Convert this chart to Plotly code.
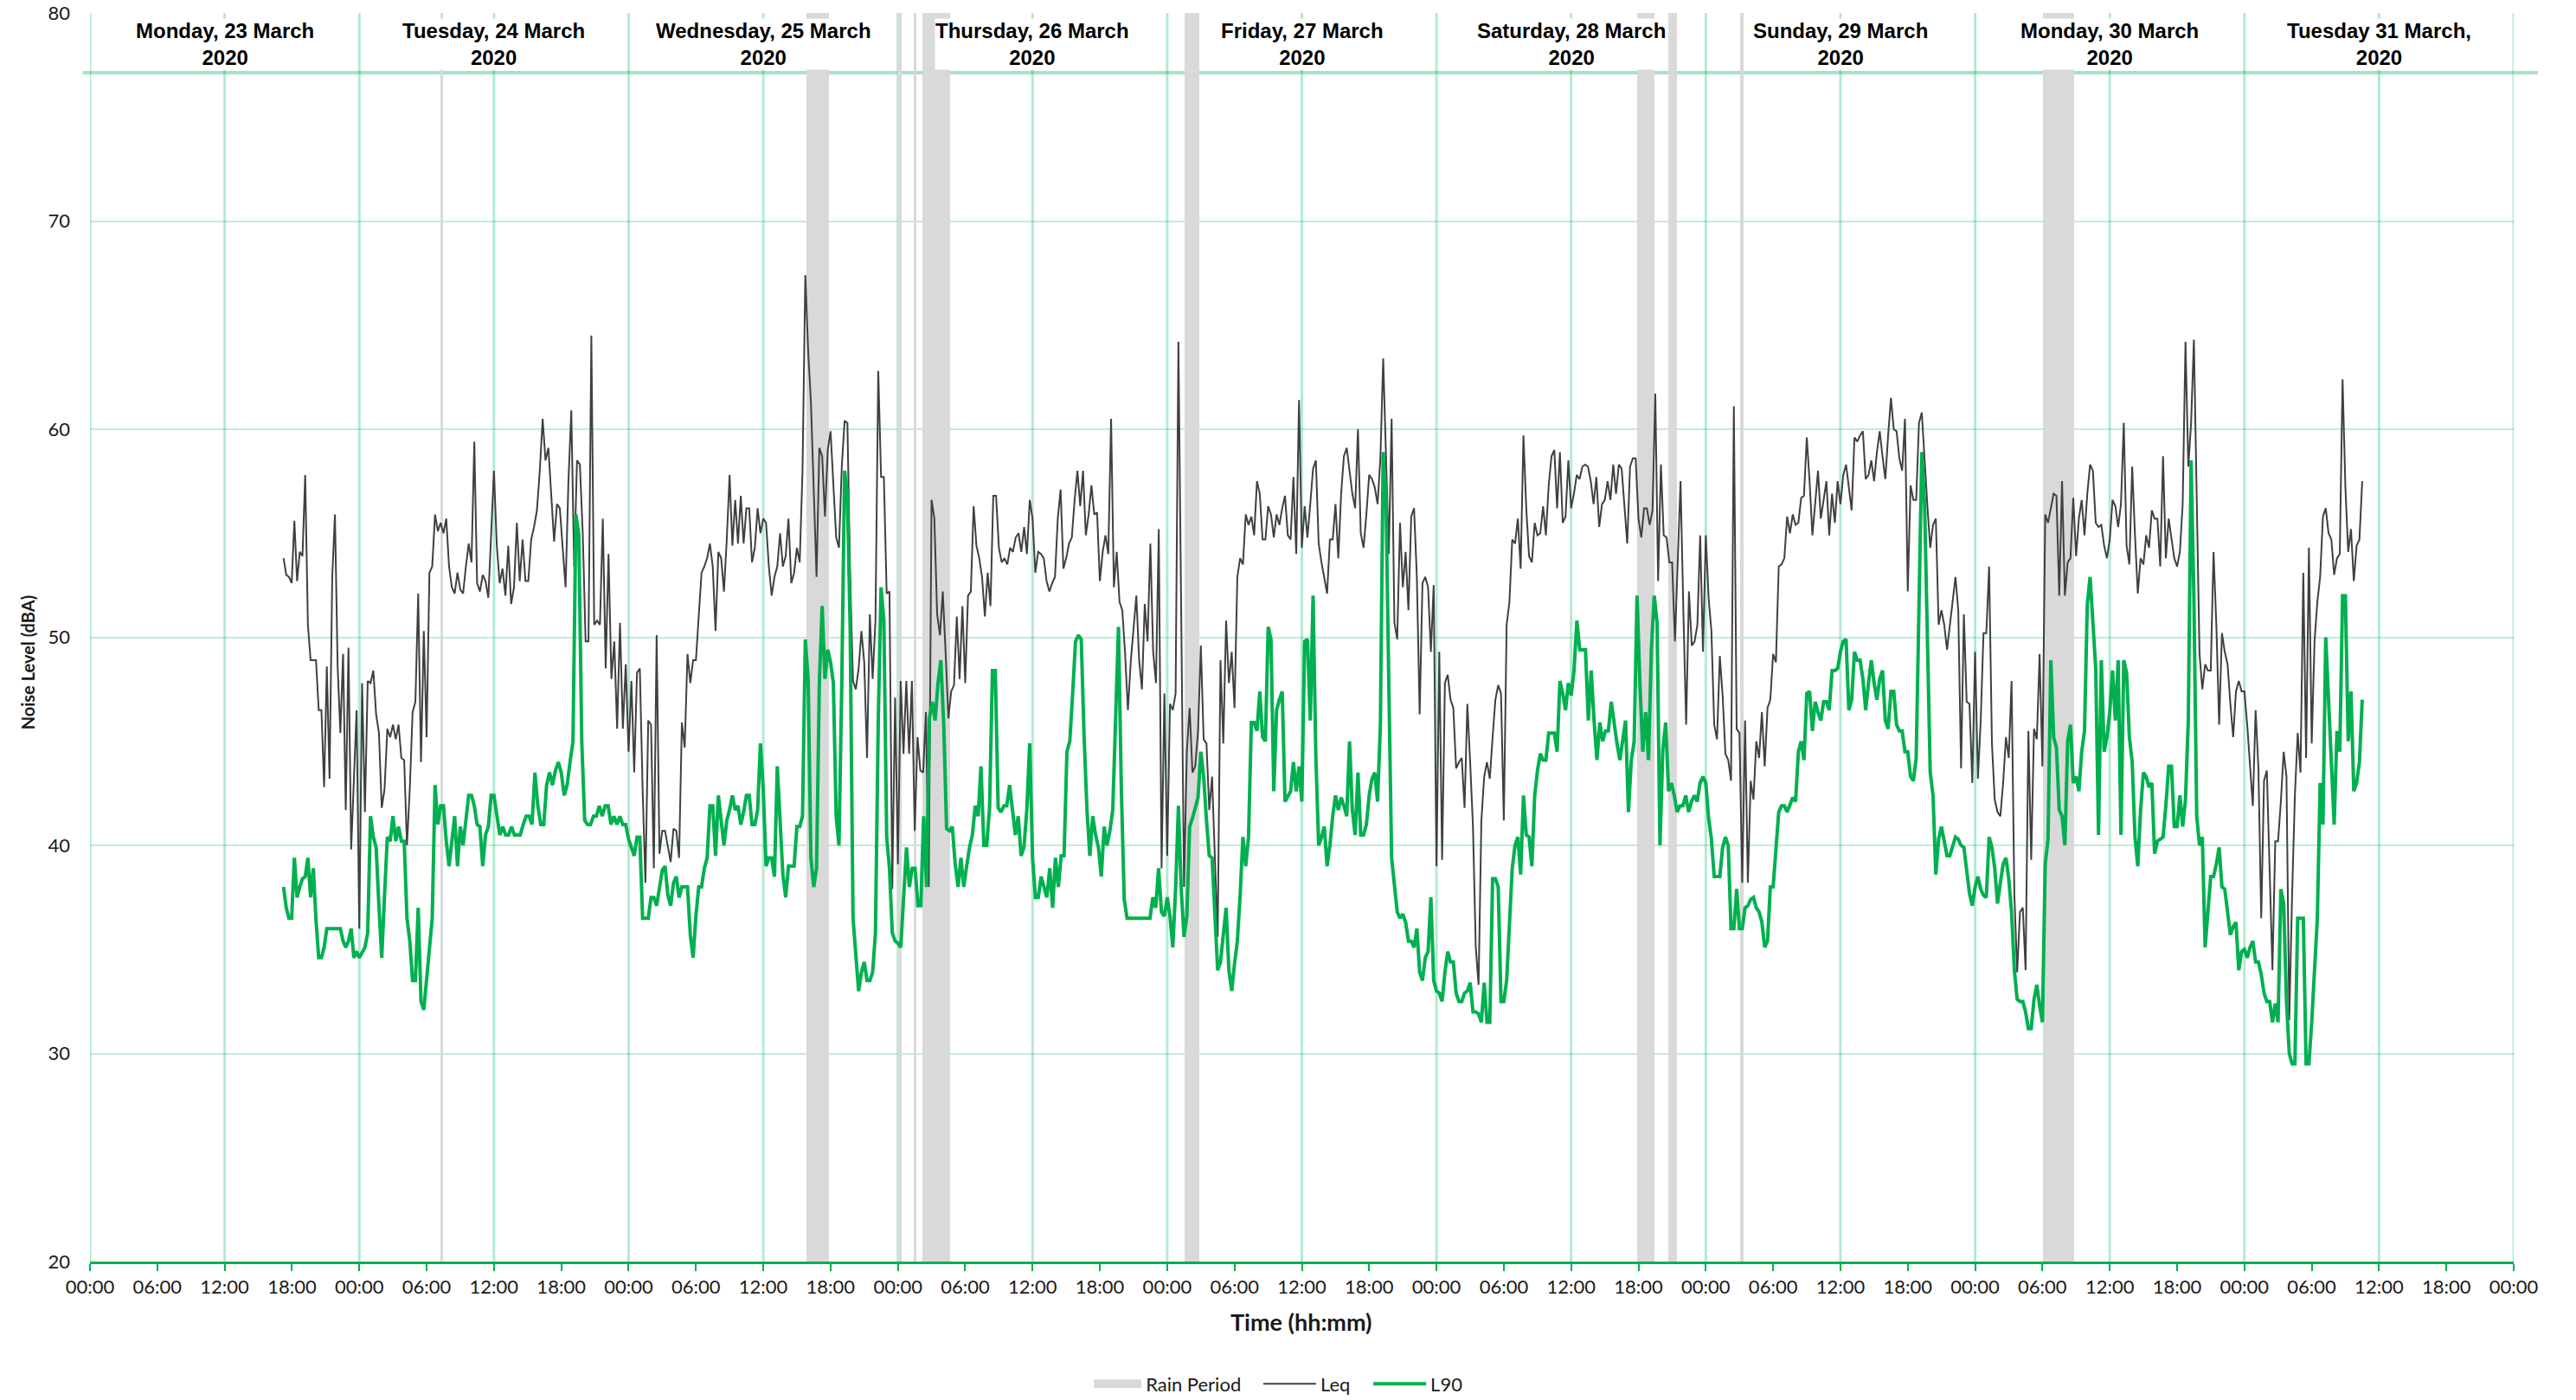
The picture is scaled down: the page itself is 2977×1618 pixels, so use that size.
import pandas as pd
import plotly.graph_objects as go

# ---------------- data ----------------
# half-day blocks; values read at ~15 min spacing
block_starts = ["2020-03-23 17:15", "2020-03-24 00:00", "2020-03-24 12:00", "2020-03-25 00:00",
                "2020-03-25 12:00", "2020-03-26 00:00", "2020-03-26 12:00", "2020-03-27 00:00",
                "2020-03-27 12:00", "2020-03-28 00:00", "2020-03-28 12:00", "2020-03-29 00:00",
                "2020-03-29 12:00", "2020-03-30 00:00", "2020-03-30 12:00", "2020-03-31 00:00"]
block_ends = block_starts[1:] + ["2020-03-31 10:45"]

leq_23pm = [53.8, 53.0, 52.9, 52.6, 55.6, 52.7, 54.1, 53.9, 57.8, 50.6, 48.9, 48.9, 48.9, 46.5, 46.5, 42.8,
            48.6, 43.2, 52.9, 55.9, 48.6, 45.4, 49.2, 41.7, 49.5, 39.8, 43.2, 46.5]
leq_24am = [36.0, 47.8, 41.6, 47.9, 47.8, 48.4, 46.3, 45.4, 41.8, 42.7, 45.6, 45.2, 45.8, 45.1, 45.8, 44.2,
            44.1, 40.0, 42.7, 46.4, 46.9, 52.1, 44.0, 50.3, 45.2, 53.1, 53.4, 55.9, 55.1, 55.5, 55.0, 55.7,
            53.4, 52.4, 52.1, 53.1, 52.3, 52.1, 53.4, 54.5, 53.6, 59.4, 52.6, 52.2, 53.0, 52.7, 51.9, 55.2]
leq_24pm = [58.0, 54.4, 52.6, 53.3, 52.0, 54.4, 51.6, 52.4, 55.5, 52.7, 54.7, 52.7, 52.7, 54.7, 55.3, 56.1,
            58.0, 60.5, 58.5, 59.1, 56.9, 54.6, 56.4, 56.2, 54.3, 52.4, 57.5, 60.9, 53.4, 58.5, 58.3, 55.0,
            49.8, 49.8, 64.5, 50.6, 50.8, 50.6, 55.7, 48.5, 54.0, 48.0, 49.8, 45.6, 50.7, 45.6, 48.7]
leq_25am = [44.5, 47.9, 43.5, 48.3, 48.5, 42.7, 38.2, 46.0, 45.8, 38.9, 50.1, 39.6, 40.7, 40.7, 39.9, 39.2,
            40.8, 40.7, 39.4, 45.9, 44.7, 49.2, 47.8, 48.9, 48.9, 50.8, 53.1, 53.4, 53.8, 54.5, 53.4, 50.3,
            54.1, 53.8, 52.2, 54.7, 57.8, 54.4, 56.6, 54.5, 56.8, 54.5, 56.2, 56.2, 53.6, 54.3, 56.2, 55.0]
leq_25pm = [55.7, 55.5, 53.4, 52.0, 52.9, 53.4, 55.0, 53.4, 53.9, 55.7, 52.6, 53.1, 54.3, 53.6, 58.0, 67.4,
            63.8, 61.3, 56.7, 52.9, 59.1, 58.7, 55.8, 59.0, 59.9, 57.5, 54.8, 54.3, 58.2, 60.4, 60.3, 52.9,
            47.9, 47.5, 48.5, 50.3, 48.8, 44.2, 51.1, 48.0, 50.8, 62.8, 57.7, 57.7, 52.1, 52.2, 37.9, 47.1]
leq_26am = [39.1, 47.9, 44.4, 47.9, 44.4, 47.9, 40.7, 45.2, 43.6, 43.5, 46.4, 38.0, 56.6, 55.7, 51.1, 50.1,
            52.2, 49.3, 46.1, 47.4, 47.7, 51.0, 48.0, 51.5, 47.8, 52.0, 52.2, 56.3, 54.4, 53.8, 52.9, 51.0,
            53.1, 51.5, 56.8, 56.8, 54.3, 53.6, 53.8, 53.5, 54.3, 54.1, 54.8, 55.0, 54.1, 55.3, 54.0, 56.6]
leq_26pm = [55.7, 53.1, 54.1, 54.0, 53.8, 52.7, 52.2, 52.6, 52.9, 55.7, 57.1, 53.3, 53.8, 54.5, 54.8, 56.6,
            58.0, 56.3, 58.0, 54.9, 55.9, 57.3, 55.9, 56.0, 52.7, 54.1, 54.9, 54.0, 60.5, 52.4, 54.1, 51.7,
            51.3, 49.2, 46.5, 48.8, 50.6, 52.0, 48.9, 47.5, 51.6, 49.8, 54.5, 49.3, 47.8, 55.2, 38.9, 47.3]
leq_27am = [39.5, 46.8, 46.5, 47.3, 64.2, 51.6, 38.0, 44.5, 46.6, 43.5, 43.8, 45.5, 49.6, 45.1, 44.9, 41.7,
            43.3, 39.4, 35.6, 48.9, 44.9, 50.8, 47.8, 49.3, 46.6, 52.9, 53.8, 53.5, 55.9, 55.4, 55.8, 54.9,
            57.5, 56.9, 54.7, 54.7, 56.3, 55.9, 54.8, 55.9, 55.4, 56.2, 56.8, 54.9, 54.7, 57.7, 54.0, 61.4]
leq_27pm = [54.3, 56.3, 54.8, 56.4, 58.1, 58.5, 54.5, 53.6, 52.9, 52.1, 54.7, 54.7, 56.4, 53.8, 56.9, 58.7,
            59.1, 58.1, 56.9, 56.2, 60.0, 55.0, 54.3, 55.9, 57.8, 57.6, 57.2, 56.4, 58.6, 63.4, 58.5, 54.0,
            60.5, 50.7, 49.9, 55.5, 52.4, 54.1, 51.3, 55.8, 56.2, 52.9, 46.3, 52.6, 52.9, 52.4, 49.3, 52.5]
leq_28am = [39.0, 49.3, 39.3, 47.8, 48.2, 47.0, 46.6, 43.7, 44.0, 44.2, 41.8, 46.8, 44.0, 40.9, 35.1, 33.3,
            41.2, 43.3, 44.0, 43.2, 45.2, 47.0, 47.7, 47.3, 41.2, 50.6, 51.7, 54.7, 54.5, 55.7, 53.3, 59.7,
            56.2, 53.9, 53.6, 55.5, 54.9, 55.0, 56.3, 54.9, 57.3, 58.7, 59.0, 56.2, 58.9, 55.5, 55.8, 58.5]
leq_28pm = [56.2, 56.9, 57.8, 57.6, 58.2, 58.3, 58.2, 57.5, 56.4, 57.7, 55.3, 56.4, 56.6, 57.5, 56.6, 58.3,
            56.9, 58.3, 58.1, 56.2, 54.5, 58.2, 58.6, 58.6, 55.7, 54.8, 56.2, 56.2, 55.4, 56.1, 61.7, 52.7,
            58.3, 54.9, 54.8, 53.6, 53.6, 49.8, 53.9, 57.5, 51.3, 45.8, 52.2, 49.6, 49.8, 50.6, 54.9, 49.3]
leq_29am = [54.9, 51.9, 50.3, 45.8, 45.1, 49.1, 47.2, 44.4, 44.1, 43.1, 61.1, 45.6, 45.4, 38.2, 46.0, 38.2,
            43.1, 42.2, 45.0, 44.2, 46.4, 43.8, 46.6, 47.0, 49.2, 48.8, 53.4, 53.5, 53.8, 55.8, 55.0, 55.9,
            55.4, 55.5, 56.7, 56.8, 59.6, 57.5, 54.9, 56.4, 58.0, 55.7, 56.6, 57.5, 54.9, 56.9, 55.5, 57.5]
leq_29pm = [56.4, 57.8, 58.3, 57.2, 56.1, 59.6, 59.4, 59.7, 59.9, 57.6, 57.8, 58.5, 57.5, 58.9, 59.9, 58.7,
            57.6, 59.7, 61.5, 60.0, 59.9, 58.6, 58.0, 60.5, 52.2, 57.3, 56.6, 56.6, 60.3, 60.8, 58.3, 56.3,
            54.3, 55.4, 55.7, 50.6, 51.3, 50.6, 49.4, 50.6, 51.9, 52.9, 51.3, 43.7, 51.1, 46.9, 46.8, 43.0]
leq_30am = [49.3, 43.2, 46.0, 50.2, 50.2, 53.4, 44.9, 42.2, 41.6, 41.4, 43.0, 45.2, 44.2, 47.9, 37.6, 33.9,
            36.8, 37.0, 34.0, 45.5, 39.3, 45.6, 45.1, 49.2, 43.8, 55.9, 55.5, 56.2, 56.9, 56.8, 52.0, 57.5,
            52.0, 53.6, 53.8, 56.7, 53.9, 55.7, 56.6, 54.9, 56.9, 58.3, 58.0, 55.5, 55.3, 55.4, 54.4, 53.8]
leq_30pm = [54.7, 56.6, 56.3, 55.3, 56.4, 60.3, 54.4, 53.5, 58.2, 54.9, 52.1, 53.8, 53.5, 54.9, 54.3, 56.1,
            55.7, 55.7, 53.4, 58.7, 53.8, 55.7, 54.8, 53.8, 53.4, 54.1, 56.4, 64.2, 58.2, 60.3, 64.3, 56.4,
            49.2, 47.5, 48.7, 48.4, 48.4, 54.1, 50.6, 45.8, 50.2, 49.3, 48.7, 46.8, 45.2, 47.4, 47.9, 47.4]
leq_31am = [47.4, 45.8, 43.7, 41.9, 46.5, 43.7, 36.5, 43.1, 43.6, 38.9, 34.0, 40.2, 40.2, 42.1, 44.5, 43.3,
            31.6, 37.6, 42.4, 45.4, 43.5, 53.1, 44.2, 54.3, 44.9, 49.8, 51.7, 52.9, 55.8, 56.2, 55.0, 54.7,
            53.0, 53.8, 54.0, 62.4, 57.2, 54.1, 55.2, 52.7, 54.4, 54.7, 57.5]

l90_23pm = [38.0, 37.0, 36.5, 36.5, 39.4, 37.5, 38.0, 38.4, 38.5, 39.4, 37.5, 38.9, 36.4, 34.6, 34.6, 35.1,
            36.0, 36.0, 36.0, 36.0, 36.0, 36.0, 35.4, 35.1, 35.4, 36.0, 34.6, 34.9]
l90_24am = [34.6, 34.9, 35.1, 35.8, 41.4, 40.4, 39.9, 37.1, 34.6, 37.6, 40.4, 40.2, 41.4, 40.2, 40.9, 40.2,
            40.2, 36.5, 35.4, 33.5, 33.5, 37.0, 32.5, 32.1, 33.5, 35.1, 36.5, 42.9, 41.0, 41.9, 41.9, 40.2,
            39.0, 40.2, 41.4, 39.0, 40.9, 40.0, 41.4, 42.4, 42.4, 41.9, 41.0, 40.9, 39.0, 40.5, 40.9, 42.4]
l90_24pm = [42.4, 41.4, 40.5, 40.9, 40.5, 40.5, 40.9, 40.5, 40.5, 40.5, 41.0, 41.4, 41.4, 41.0, 43.5, 41.9,
            41.0, 41.0, 42.9, 43.5, 42.9, 43.6, 44.0, 43.5, 42.4, 42.9, 44.0, 45.0, 55.9, 54.9, 45.0, 41.2,
            41.0, 41.0, 41.4, 41.4, 41.9, 41.4, 41.9, 41.9, 41.0, 41.4, 41.0, 41.4, 41.0, 41.0]
l90_25am = [40.3, 39.9, 39.5, 40.4, 40.4, 36.5, 36.5, 36.5, 37.5, 37.5, 37.1, 37.9, 38.8, 39.0, 37.6, 37.1,
            38.2, 38.5, 37.5, 38.0, 38.0, 38.0, 35.7, 34.6, 36.6, 38.0, 38.0, 38.9, 39.4, 41.9, 41.9, 39.5,
            42.4, 41.2, 40.0, 41.2, 41.7, 42.4, 41.7, 41.9, 41.0, 41.6, 42.4, 42.4, 41.0, 41.0, 41.7, 44.9]
l90_25pm = [42.7, 39.0, 39.4, 39.4, 38.5, 43.8, 41.2, 38.6, 37.5, 39.0, 39.0, 39.0, 40.9, 40.9, 41.4, 49.9,
            48.0, 39.4, 38.0, 38.9, 47.8, 51.5, 48.0, 49.4, 48.8, 47.8, 41.4, 40.0, 47.8, 58.0, 56.9, 50.3,
            36.5, 34.6, 33.0, 33.9, 34.4, 33.5, 33.5, 33.9, 35.8, 46.0, 52.4, 50.8, 40.4, 38.9, 35.8, 35.4]
l90_26am = [35.3, 35.1, 37.9, 39.9, 38.0, 38.9, 38.9, 37.1, 37.1, 41.4, 38.0, 46.1, 46.9, 46.0, 47.8, 48.9,
            45.8, 40.8, 40.7, 40.9, 39.1, 38.0, 39.4, 38.0, 39.0, 39.9, 40.5, 41.9, 41.4, 43.8, 40.0, 40.0,
            41.8, 48.4, 48.4, 41.8, 41.6, 41.9, 41.9, 42.9, 41.7, 40.5, 41.4, 39.5, 39.9, 41.7, 44.9]
l90_26pm = [39.4, 37.5, 37.5, 38.5, 38.0, 37.5, 38.9, 37.0, 39.4, 38.0, 39.5, 39.5, 44.5, 45.0, 47.3, 49.8,
            50.1, 49.9, 45.2, 41.7, 39.5, 41.4, 40.5, 39.9, 38.5, 40.9, 40.0, 40.7, 41.7, 46.0, 50.5, 42.7,
            37.4, 36.5, 36.5, 36.5, 36.5, 36.5, 36.5, 36.5, 36.5, 36.5, 37.5, 37.0, 38.9, 36.8, 36.6]
l90_27am = [37.5, 36.6, 35.1, 37.9, 41.9, 37.9, 35.6, 36.6, 40.9, 41.3, 41.8, 42.3, 44.5, 43.3, 41.2, 39.5,
            39.4, 36.8, 34.0, 34.4, 35.7, 37.0, 34.0, 33.0, 34.3, 35.4, 37.6, 40.4, 39.0, 40.4, 45.9, 45.9,
            45.5, 47.4, 45.2, 45.0, 50.5, 49.9, 42.6, 46.5, 47.0, 47.4, 42.1, 42.4, 42.6, 44.0, 42.6, 43.8]
l90_27pm = [42.1, 49.8, 49.9, 46.0, 52.0, 44.2, 40.0, 40.4, 40.9, 39.0, 40.0, 41.4, 42.4, 41.7, 42.3, 41.9,
            41.4, 45.0, 41.7, 40.5, 43.5, 40.5, 40.5, 41.0, 42.4, 43.2, 43.5, 42.1, 45.8, 58.9, 56.7, 47.8,
            39.4, 38.1, 36.8, 36.5, 36.7, 36.3, 35.4, 35.4, 35.1, 36.0, 33.9, 33.5, 34.6, 34.9, 37.5, 33.5]
l90_28am = [33.0, 32.9, 32.5, 33.9, 34.9, 34.4, 34.4, 32.9, 32.5, 32.5, 32.9, 33.0, 33.4, 32.0, 32.0, 31.9,
            31.5, 33.4, 31.5, 31.5, 38.4, 38.4, 38.0, 32.5, 32.5, 33.5, 36.6, 38.9, 40.0, 40.4, 38.6, 42.4,
            40.5, 40.4, 39.0, 42.4, 43.6, 44.4, 44.1, 44.1, 45.4, 45.4, 45.4, 44.5, 47.9, 47.3, 46.5, 47.8]
l90_28pm = [47.2, 48.4, 50.8, 49.4, 49.4, 49.4, 46.0, 48.4, 46.0, 44.1, 45.9, 45.0, 45.5, 45.5, 46.9, 45.8,
            44.9, 44.1, 45.0, 46.0, 41.6, 44.1, 45.0, 52.0, 47.8, 44.5, 46.4, 44.1, 49.4, 52.0, 50.7, 40.0,
            44.6, 45.9, 42.6, 43.0, 42.4, 41.6, 41.9, 41.9, 42.4, 41.6, 42.1, 42.4, 42.1, 43.0, 43.3]
l90_29am = [43.0, 41.3, 40.3, 38.5, 38.5, 38.5, 39.9, 40.4, 40.0, 36.0, 36.0, 37.9, 36.0, 36.0, 37.0, 37.1,
            37.4, 37.5, 37.0, 36.8, 36.3, 35.1, 35.4, 38.0, 38.0, 39.9, 41.6, 41.9, 41.9, 41.6, 41.9, 42.3,
            42.1, 44.5, 45.0, 44.1, 47.3, 47.4, 45.5, 46.9, 46.4, 46.0, 46.9, 46.9, 46.5, 48.4, 48.4, 48.5]
l90_29pm = [49.3, 49.8, 49.9, 46.5, 47.0, 49.3, 48.9, 48.9, 48.0, 46.5, 47.8, 48.9, 47.8, 47.0, 48.0, 48.4,
            46.0, 45.6, 47.4, 47.4, 45.8, 45.5, 45.5, 44.5, 44.5, 43.3, 43.1, 44.2, 51.5, 58.9, 56.4, 50.6,
            43.5, 42.4, 38.6, 40.3, 40.9, 40.2, 39.5, 39.5, 39.9, 40.4, 40.3, 40.0, 39.9, 38.8, 37.7, 37.1]
l90_30am = [38.0, 38.5, 37.9, 37.6, 37.5, 40.4, 39.9, 38.9, 37.2, 38.2, 39.1, 39.4, 38.4, 36.8, 34.0, 32.6,
            32.5, 32.5, 32.0, 31.2, 31.2, 32.6, 33.3, 32.3, 31.5, 39.1, 40.3, 48.9, 45.2, 44.7, 41.7, 41.4,
            40.0, 45.0, 45.8, 43.0, 43.3, 42.6, 44.5, 45.5, 51.6, 52.9, 50.8, 48.5, 40.5, 48.9, 44.5, 45.2]
l90_30pm = [46.4, 48.4, 46.0, 48.9, 40.5, 48.9, 48.3, 45.2, 44.0, 40.4, 39.0, 41.7, 43.5, 43.3, 42.8, 43.0,
            39.6, 40.2, 40.3, 40.4, 41.9, 43.8, 43.8, 40.9, 40.9, 42.4, 40.9, 42.2, 46.0, 58.5, 51.9, 41.4,
            40.0, 40.4, 35.1, 36.6, 38.5, 38.5, 39.1, 39.9, 38.0, 37.9, 36.8, 35.7, 36.1, 36.3, 34.0, 34.9]
l90_31am = [35.0, 34.6, 35.1, 35.4, 34.4, 34.4, 33.8, 32.9, 32.5, 32.5, 31.5, 32.4, 31.5, 37.9, 37.2, 32.5,
            30.0, 29.5, 29.5, 36.5, 36.5, 36.5, 29.5, 29.5, 31.5, 33.8, 36.5, 43.0, 41.0, 50.0, 46.5, 44.0,
            41.0, 45.5, 44.5, 52.0, 52.0, 45.0, 47.4, 42.6, 43.0, 44.0, 47.0]

leq_blocks = [leq_23pm, leq_24am, leq_24pm, leq_25am, leq_25pm, leq_26am, leq_26pm, leq_27am,
              leq_27pm, leq_28am, leq_28pm, leq_29am, leq_29pm, leq_30am, leq_30pm, leq_31am]
l90_blocks = [l90_23pm, l90_24am, l90_24pm, l90_25am, l90_25pm, l90_26am, l90_26pm, l90_27am,
              l90_27pm, l90_28am, l90_28pm, l90_29am, l90_29pm, l90_30am, l90_30pm, l90_31am]

rain_start = ["2020-03-24 07:15", "2020-03-25 15:50", "2020-03-25 23:55", "2020-03-26 01:25",
              "2020-03-26 02:10", "2020-03-27 01:35", "2020-03-28 17:55", "2020-03-28 20:40",
              "2020-03-29 03:05", "2020-03-30 06:05"]
rain_end = ["2020-03-24 07:30", "2020-03-25 17:50", "2020-03-26 00:20", "2020-03-26 01:40",
            "2020-03-26 04:40", "2020-03-27 02:50", "2020-03-28 19:25", "2020-03-28 21:25",
            "2020-03-29 03:20", "2020-03-30 08:50"]

day_labels = ["Monday, 23 March 2020", "Tuesday, 24 March 2020", "Wednesday, 25 March 2020",
              "Thursday, 26 March 2020", "Friday, 27 March 2020", "Saturday, 28 March 2020",
              "Sunday, 29 March 2020", "Monday, 30 March 2020", "Tuesday 31 March, 2020"]
day_dates = ["2020-03-23", "2020-03-24", "2020-03-25", "2020-03-26", "2020-03-27",
             "2020-03-28", "2020-03-29", "2020-03-30", "2020-03-31"]


def series_times(blocks):
    xs = []
    for s, e, vals in zip(block_starts, block_ends, blocks):
        rng = pd.date_range(s, e, periods=len(vals) + 1)[:-1]
        xs.extend(list(rng))
    return xs


leq_x = series_times(leq_blocks)
leq_y = [v for b in leq_blocks for v in b]
l90_x = series_times(l90_blocks)
l90_y = [v for b in l90_blocks for v in b]

rs = pd.to_datetime(rain_start)
re_ = pd.to_datetime(rain_end)
rain_mid = rs + (re_ - rs) / 2
rain_w = [(e - s).total_seconds() * 1000 for s, e in zip(rs, re_)]

GREEN = "#00B050"
GRID_V = "rgba(0,190,100,0.30)"
GRID_H = "rgba(0,176,80,0.24)"
TXT = "#1a1a1a"
RAIN = "#D9D9D9"

fig = go.Figure()
fig.add_trace(go.Bar(x=rain_mid, y=[60] * len(rain_mid), base=20, width=rain_w,
                     marker=dict(color=RAIN, line=dict(width=0)), name="Rain Period",
                     showlegend=False, legendgroup="rain", hoverinfo="skip"))
# legend entry for the rain periods (wide grey swatch, no data drawn)
fig.add_trace(go.Scatter(x=[None], y=[None], mode="lines", name="Rain Period", legendgroup="rain",
                         line=dict(color=RAIN, width=14), legend="legend"))
fig.add_trace(go.Scatter(x=leq_x, y=leq_y, mode="lines", name="Leq", legend="legend2",
                         line=dict(color="#404040", width=2)))
fig.add_trace(go.Scatter(x=l90_x, y=l90_y, mode="lines", name="L90", legend="legend3",
                         line=dict(color=GREEN, width=4)))

# vertical 12-hour grid lines
for t in pd.date_range("2020-03-23 00:00", "2020-04-01 00:00", freq="12h"):
    fig.add_shape(type="line", x0=t, x1=t, y0=20, y1=80, xref="x", yref="y",
                  line=dict(color=GRID_V, width=3), layer="below")
# header separator line
fig.add_shape(type="line", x0=-0.003, x1=1.01, y0=77.13, y1=77.13, xref="paper", yref="y",
              line=dict(color="rgba(0,176,80,0.35)", width=4), layer="below")

for lab, d in zip(day_labels, day_dates):
    l1, l2 = lab.rsplit(" ", 1)
    fig.add_annotation(x=pd.Timestamp(d) + pd.Timedelta(hours=12), y=78.5, xref="x", yref="y",
                       text=f"<b>{l1}<br>{l2}</b>", showarrow=False, bgcolor="white", borderpad=0,
                       font=dict(family="Liberation Sans, Arial, sans-serif", size=24, color="black"))

fig.add_annotation(x=0.4998, y=-0.0485, xref="paper", yref="paper", xanchor="center", yanchor="middle",
                   text="<b>Time (hh:mm)</b>", showarrow=False,
                   font=dict(family="Lato, sans-serif", size=27, color=TXT))
fig.add_annotation(x=-0.0257, y=0.48, xref="paper", yref="paper", xanchor="center", yanchor="middle",
                   text="<b>Noise Level (dBA)</b>", textangle=-90, showarrow=False,
                   font=dict(family="Lato, sans-serif", size=20, color=TXT))

leg_common = dict(orientation="h", xanchor="left", y=-0.098, yanchor="middle",
                  font=dict(size=22, color=TXT), bgcolor="rgba(0,0,0,0)")
fig.update_layout(
    width=2977, height=1618,
    margin=dict(l=104, r=72, t=15, b=160, autoexpand=False),
    paper_bgcolor="white", plot_bgcolor="white",
    barmode="overlay", bargap=0,
    font=dict(family="Lato, sans-serif", size=22, color=TXT),
    showlegend=True,
    legend=dict(x=0.4124, itemwidth=55, **leg_common),
    legend2=dict(x=0.4823, itemwidth=61, **leg_common),
    legend3=dict(x=0.5277, itemwidth=61, **leg_common),
    xaxis=dict(type="date", range=["2020-03-23 00:00", "2020-04-01 00:00"], automargin=False,
               tick0="2020-03-23 00:00", dtick=6 * 3600 * 1000, tickformat="%H:%M",
               showgrid=False, zeroline=False, showline=True, linecolor=GREEN, linewidth=3,
               ticks="outside", ticklen=8, tickwidth=2, tickcolor=GREEN,
               tickfont=dict(size=22, color=TXT)),
    yaxis=dict(range=[20, 80], dtick=10, showgrid=True, gridcolor=GRID_H, gridwidth=2, automargin=False,
               zeroline=False, showline=False, ticks="", ticklabelstandoff=22,
               tickfont=dict(size=22, color=TXT)),
)

fig.write_html("out.html", config={"displayModeBar": False},
               post_script="document.body.style.margin='0';")
